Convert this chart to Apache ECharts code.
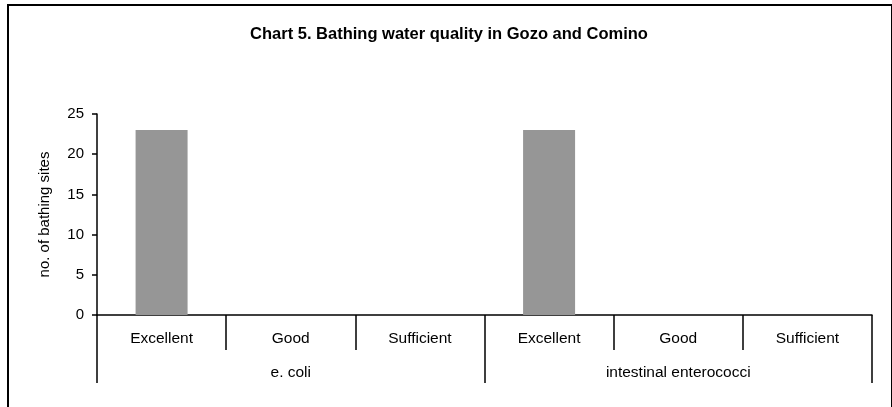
<!DOCTYPE html>
<html><head><meta charset="utf-8">
<script src="https://cdn.jsdelivr.net/npm/echarts@6/dist/echarts.min.js"></script>
<style>html,body{margin:0;padding:0;background:#fff}#c{width:892px;height:407px}</style>
</head><body><div id="c"></div>
<script>
const categories = ['Excellent','Good','Sufficient','Excellent','Good','Sufficient'];
const groups = ['e. coli','intestinal enterococci'];
const values = [23,0,0,23,0,0];
const yTicks = {min:0, max:25, interval:5};
const font = 'Liberation Sans, Arial, sans-serif';
const chart = echarts.init(document.getElementById('c'));
chart.setOption({
  animation:false,
  title:{text:'Chart 5. Bathing water quality in Gozo and Comino', left:444, top:21, textAlign:'center',
    textStyle:{fontFamily:font, fontSize:16.5, fontWeight:'bold', color:'#000'}},
  grid:{left:97, right:20, top:114, bottom:92},
  xAxis:[{
    type:'category', data:categories, position:'bottom',
    axisLine:{lineStyle:{color:'#000', width:1.5}},
    axisTick:{show:true, interval:0, length:35, lineStyle:{color:'#000', width:1.5}},
    axisLabel:{interval:0, margin:16, fontFamily:font, fontSize:15.5, color:'#000'}
  },{
    type:'category', data:groups, position:'bottom',
    axisLine:{show:false},
    axisTick:{show:true, interval:0, length:68, lineStyle:{color:'#000', width:1.5}},
    axisLabel:{interval:0, margin:50, fontFamily:font, fontSize:15.5, color:'#000'}
  }],
  yAxis:{type:'value', min:yTicks.min, max:yTicks.max, interval:yTicks.interval,
    name:'no. of bathing sites', nameLocation:'middle', nameGap:45, nameRotate:90,
    nameTextStyle:{fontFamily:font, fontSize:15, color:'#000'},
    axisLine:{show:true, lineStyle:{color:'#000', width:1.5}},
    axisTick:{show:true, length:5, lineStyle:{color:'#000', width:1.5}},
    axisLabel:{margin:13, fontFamily:font, fontSize:15, color:'#000'},
    splitLine:{show:false}},
  series:[{type:'bar', data:values, barWidth:52, itemStyle:{color:'#969696'}, xAxisIndex:0}],
  graphic:[{type:'rect', shape:{x:8, y:5, width:884, height:410}, style:{fill:'none', stroke:'#000', lineWidth:2}, silent:true}]
});
</script></body></html>
